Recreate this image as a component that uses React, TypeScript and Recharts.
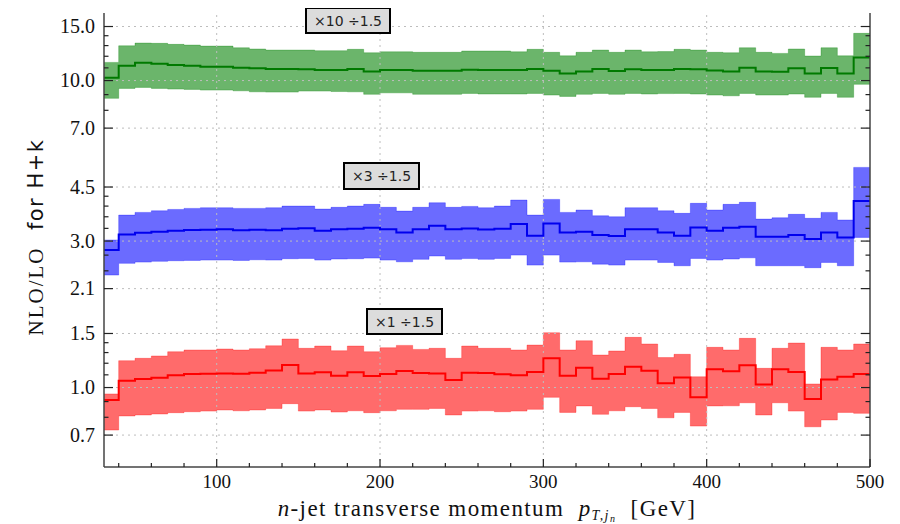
import { Area, ComposedChart, Line, ReferenceLine, XAxis, YAxis } from 'recharts'

// lower bin edges in GeV, the last bin ends at 500
const binEdges = [
  30, 40, 50, 60, 70, 80, 90, 100, 110, 120, 130, 140, 150, 160, 170, 180,
  190, 200, 210, 220, 230, 240, 250, 260, 270, 280, 290, 300, 310, 320, 330,
  340, 350, 360, 370, 380, 390, 400, 410, 420, 430, 440, 450, 460, 470, 480, 490,
]
const binEnd = 500

// NLO/LO ratios (unscaled), central value and scale band edges
const greenMid = [
  1.021, 1.117, 1.143, 1.134, 1.123, 1.117, 1.109, 1.109, 1.101, 1.096, 1.09, 1.09,
  1.088, 1.082, 1.082, 1.09, 1.071, 1.082, 1.082, 1.076, 1.076, 1.076, 1.084, 1.082,
  1.082, 1.082, 1.09, 1.076, 1.055, 1.071, 1.09, 1.074, 1.088, 1.082, 1.082, 1.09,
  1.088, 1.079, 1.071, 1.101, 1.071, 1.068, 1.096, 1.055, 1.099, 1.055, 1.19,
]
const greenLo = [
  0.875, 0.943, 0.95, 0.943, 0.938, 0.936, 0.931, 0.931, 0.926, 0.919, 0.917, 0.917,
  0.924, 0.924, 0.921, 0.919, 0.902, 0.912, 0.912, 0.902, 0.902, 0.902, 0.908, 0.904,
  0.904, 0.904, 0.908, 0.897, 0.888, 0.902, 0.908, 0.902, 0.908, 0.904, 0.907, 0.908,
  0.904, 0.897, 0.892, 0.908, 0.897, 0.897, 0.904, 0.882, 0.908, 0.882, 0.972,
]
const greenHi = [
  1.146, 1.298, 1.325, 1.322, 1.312, 1.305, 1.295, 1.295, 1.279, 1.267, 1.257, 1.257,
  1.257, 1.251, 1.251, 1.264, 1.232, 1.241, 1.241, 1.236, 1.236, 1.236, 1.248, 1.248,
  1.248, 1.241, 1.264, 1.236, 1.204, 1.236, 1.257, 1.236, 1.257, 1.241, 1.243, 1.264,
  1.257, 1.236, 1.232, 1.279, 1.236, 1.226, 1.267, 1.202, 1.279, 1.204, 1.425,
]

const blueMid = [
  0.935, 1.051, 1.064, 1.072, 1.08, 1.086, 1.089, 1.092, 1.084, 1.089, 1.084, 1.097,
  1.1, 1.08, 1.092, 1.097, 1.105, 1.092, 1.067, 1.092, 1.122, 1.092, 1.098, 1.09,
  1.097, 1.136, 1.041, 1.142, 1.067, 1.072, 1.046, 1.038, 1.092, 1.092, 1.067, 1.041,
  1.108, 1.08, 1.105, 1.113, 1.033, 1.033, 1.046, 1.015, 1.067, 1.028, 1.35,
]
const blueLo = [
  0.775, 0.846, 0.854, 0.859, 0.863, 0.865, 0.867, 0.867, 0.865, 0.869, 0.867, 0.876,
  0.878, 0.867, 0.874, 0.876, 0.88, 0.867, 0.856, 0.872, 0.894, 0.872, 0.877, 0.872,
  0.878, 0.9, 0.835, 0.9, 0.854, 0.856, 0.841, 0.835, 0.867, 0.867, 0.852, 0.831,
  0.878, 0.867, 0.874, 0.882, 0.831, 0.831, 0.831, 0.819, 0.852, 0.831, 1.028,
]
const blueHi = [
  1.008, 1.215, 1.24, 1.255, 1.268, 1.278, 1.284, 1.284, 1.278, 1.278, 1.284, 1.3,
  1.3, 1.271, 1.288, 1.3, 1.317, 1.288, 1.252, 1.288, 1.333, 1.288, 1.297, 1.284,
  1.3, 1.36, 1.215, 1.367, 1.24, 1.262, 1.209, 1.2, 1.284, 1.284, 1.255, 1.231,
  1.327, 1.262, 1.317, 1.337, 1.179, 1.191, 1.222, 1.186, 1.24, 1.171, 1.738,
]

const redMid = [
  0.91, 1.052, 1.066, 1.076, 1.096, 1.106, 1.109, 1.112, 1.109, 1.117, 1.137, 1.184,
  1.112, 1.121, 1.093, 1.121, 1.09, 1.106, 1.132, 1.115, 1.112, 1.058, 1.117, 1.115,
  1.104, 1.096, 1.123, 1.245, 1.093, 1.16, 1.068, 1.106, 1.169, 1.134, 1.032, 1.079,
  0.929, 1.146, 1.129, 1.181, 1.024, 1.146, 1.123, 0.917, 1.063, 1.084, 1.106,
]
const redLo = [
  0.727, 0.808, 0.814, 0.82, 0.828, 0.834, 0.838, 0.845, 0.84, 0.845, 0.855, 0.886,
  0.838, 0.845, 0.832, 0.84, 0.828, 0.84, 0.849, 0.849, 0.855, 0.814, 0.838, 0.84,
  0.834, 0.838, 0.849, 0.929, 0.83, 0.871, 0.818, 0.84, 0.866, 0.855, 0.797, 0.83,
  0.749, 0.871, 0.872, 0.892, 0.814, 0.892, 0.838, 0.745, 0.784, 0.83, 0.824,
]
const redHi = [
  0.953, 1.223, 1.245, 1.267, 1.308, 1.325, 1.325, 1.335, 1.325, 1.338, 1.368, 1.439,
  1.342, 1.365, 1.318, 1.365, 1.308, 1.348, 1.372, 1.331, 1.342, 1.245, 1.365, 1.342,
  1.342, 1.325, 1.375, 1.508, 1.325, 1.42, 1.276, 1.315, 1.457, 1.386, 1.252, 1.283,
  1.084, 1.352, 1.325, 1.446, 1.155, 1.342, 1.396, 1.027, 1.352, 1.325, 1.386,
]

// offsets applied for display (see the boxes)
const greenFactor = 10
const blueFactor = 3
const redFactor = 1

const yMajorTicks = [0.7, 1.0, 1.5, 2.1, 3.0, 4.5, 7.0, 10.0, 15.0]
const yMinorTicks = [0.8, 0.9, 1.1, 1.2, 1.3, 1.4, 2.4, 2.7, 3.3, 3.6, 3.9, 4.2, 8, 9, 11, 12, 13, 14]
const xMajorTicks = [100, 200, 300, 400, 500]
const xMinorTicks = [40, 60, 80, 120, 140, 160, 180, 220, 240, 260, 280, 320, 340, 360, 380, 420, 440, 460, 480]

const yTicks = [...yMajorTicks, ...yMinorTicks].sort((a, b) => a - b)
const xTicks = [...xMajorTicks, ...xMinorTicks].sort((a, b) => a - b)

const rows = [...binEdges, binEnd].map((pt, i) => {
  const j = Math.min(i, binEdges.length - 1)
  return {
    pt,
    greenBand: [greenLo[j] * greenFactor, greenHi[j] * greenFactor],
    greenMid: greenMid[j] * greenFactor,
    blueBand: [blueLo[j] * blueFactor, blueHi[j] * blueFactor],
    blueMid: blueMid[j] * blueFactor,
    redBand: [redLo[j] * redFactor, redHi[j] * redFactor],
    redMid: redMid[j] * redFactor,
  }
})

const W = 892
const H = 516
const frame = '#444'
const tickColor = '#222'
const serif = '"Liberation Serif", "DejaVu Serif", serif'
const sans = '"DejaVu Sans", sans-serif'

const BottomTick = ({ x, y, payload }: any) => {
  const major = xMajorTicks.includes(payload.value)
  return (
    <g>
      <line x1={x} x2={x} y1={y} y2={y - (major ? 8 : 4)} stroke={tickColor} strokeWidth={1.2} />
      {major && (
        <text x={x} y={y + 21} textAnchor='middle' style={{ fontFamily: serif, fontSize: 19 }} fill='#111'>
          {payload.value}
        </text>
      )}
    </g>
  )
}

const TopTick = ({ x, y, payload }: any) => {
  const major = xMajorTicks.includes(payload.value)
  return <line x1={x} x2={x} y1={y} y2={y + (major ? 8 : 4)} stroke={tickColor} strokeWidth={1.2} />
}

const LeftTick = ({ x, y, payload }: any) => {
  const major = yMajorTicks.includes(payload.value)
  return (
    <g>
      <line x1={x} x2={x + (major ? 9 : 4.5)} y1={y} y2={y} stroke={tickColor} strokeWidth={1.2} />
      {major && (
        <text x={x - 9} y={y + 6.5} textAnchor='end' style={{ fontFamily: serif, fontSize: 20 }} fill='#111'>
          {payload.value.toFixed(1)}
        </text>
      )}
    </g>
  )
}

const RightTick = ({ x, y, payload }: any) => {
  const major = yMajorTicks.includes(payload.value)
  return <line x1={x} x2={x - (major ? 9 : 4.5)} y1={y} y2={y} stroke={tickColor} strokeWidth={1.2} />
}

const boxStyle = {
  position: 'absolute' as const,
  boxSizing: 'border-box' as const,
  border: '2px solid #000',
  background: '#dcdcdc',
  fontFamily: sans,
  fontSize: 14,
  color: '#222',
  display: 'flex',
  alignItems: 'center',
  justifyContent: 'center',
  whiteSpace: 'pre' as const,
}

export default function App() {
  const yDomain = [0.551, 16.6]
  const xDomain = [31, 500]
  return (
    <div style={{ position: 'relative', width: W, height: H }}>
      <ComposedChart width={W} height={H} data={rows} margin={{ top: 5, right: 20, bottom: 0, left: 0 }}>
        <XAxis
          dataKey='pt'
          type='number'
          domain={xDomain}
          allowDataOverflow
          ticks={xTicks}
          interval={0}
          tick={BottomTick}
          tickLine={false}
          tickSize={0}
          tickMargin={0}
          height={57}
          axisLine={{ stroke: frame, strokeWidth: 1.5 }}
        />
        <XAxis
          xAxisId='top'
          orientation='top'
          dataKey='pt'
          type='number'
          domain={xDomain}
          allowDataOverflow
          ticks={xTicks}
          interval={0}
          tick={TopTick}
          tickLine={false}
          tickSize={0}
          tickMargin={0}
          height={0}
          axisLine={{ stroke: frame, strokeWidth: 1.5 }}
        />
        <YAxis
          type='number'
          scale='log'
          domain={yDomain}
          allowDataOverflow
          ticks={yTicks}
          interval={0}
          tick={LeftTick}
          tickLine={false}
          tickSize={0}
          tickMargin={0}
          width={96}
          axisLine={{ stroke: frame, strokeWidth: 1.5 }}
        />
        <YAxis
          yAxisId='right'
          orientation='right'
          type='number'
          scale='log'
          domain={yDomain}
          allowDataOverflow
          ticks={yTicks}
          interval={0}
          tick={RightTick}
          tickLine={false}
          tickSize={0}
          tickMargin={0}
          width={10}
          axisLine={{ stroke: frame, strokeWidth: 1.5 }}
        />

        {yMajorTicks.map((v) => (
          <ReferenceLine key={'y' + v} y={v} stroke='#bdbdbd' strokeDasharray='2 4' />
        ))}
        {xMajorTicks.slice(0, -1).map((v) => (
          <ReferenceLine key={'x' + v} x={v} stroke='#bdbdbd' strokeDasharray='2 4' />
        ))}

        <Area type='stepAfter' dataKey='greenBand' fill='#008000' fillOpacity={0.58} stroke='#008000' strokeOpacity={0.3} strokeWidth={1} isAnimationActive={false} />
        <Area type='stepAfter' dataKey='blueBand' fill='#0000ff' fillOpacity={0.58} stroke='#0000ff' strokeOpacity={0.3} strokeWidth={1} isAnimationActive={false} />
        <Area type='stepAfter' dataKey='redBand' fill='#ff0000' fillOpacity={0.58} stroke='#ff0000' strokeOpacity={0.3} strokeWidth={1} isAnimationActive={false} />
        <Line type='stepAfter' dataKey='greenMid' stroke='#007a00' strokeWidth={2} dot={false} activeDot={false} isAnimationActive={false} />
        <Line type='stepAfter' dataKey='blueMid' stroke='#0000ee' strokeWidth={2} dot={false} activeDot={false} isAnimationActive={false} />
        <Line type='stepAfter' dataKey='redMid' stroke='#ff0000' strokeWidth={2} dot={false} activeDot={false} isAnimationActive={false} />
      </ComposedChart>

      <div style={{ ...boxStyle, left: 297, top: -1, width: 86, height: 27 }}>×10 ÷1.5</div>
      <div style={{ ...boxStyle, left: 335, top: 154, width: 77, height: 28 }}>×3 ÷1.5</div>
      <div style={{ ...boxStyle, left: 358, top: 300, width: 77, height: 27 }}>×1 ÷1.5</div>

      <svg width={W} height={H} style={{ position: 'absolute', left: 0, top: 0, pointerEvents: 'none' }}>
        <text transform='translate(35,229) rotate(-90)' textAnchor='middle' fill='#111' style={{ whiteSpace: 'pre' }}>
          <tspan style={{ fontFamily: serif, fontSize: 21, letterSpacing: 2 }}>NLO/LO</tspan>
          <tspan style={{ fontFamily: sans, fontSize: 21, letterSpacing: 1.5 }}>{'  for H+k'}</tspan>
        </text>
        <text x={479} y={508} textAnchor='middle' fill='#111' style={{ fontFamily: serif, fontSize: 23, letterSpacing: 1.4, whiteSpace: 'pre' }}>
          <tspan fontStyle='italic'>n</tspan>
          <tspan>{'-jet transverse momentum  '}</tspan>
          <tspan fontStyle='italic'>p</tspan>
          <tspan fontStyle='italic' fontSize={14} dy={4}>T,j</tspan>
          <tspan fontStyle='italic' fontSize={10} dy={2}>n</tspan>
          <tspan dy={-6}>{'  [GeV]'}</tspan>
        </text>
      </svg>
    </div>
  )
}
